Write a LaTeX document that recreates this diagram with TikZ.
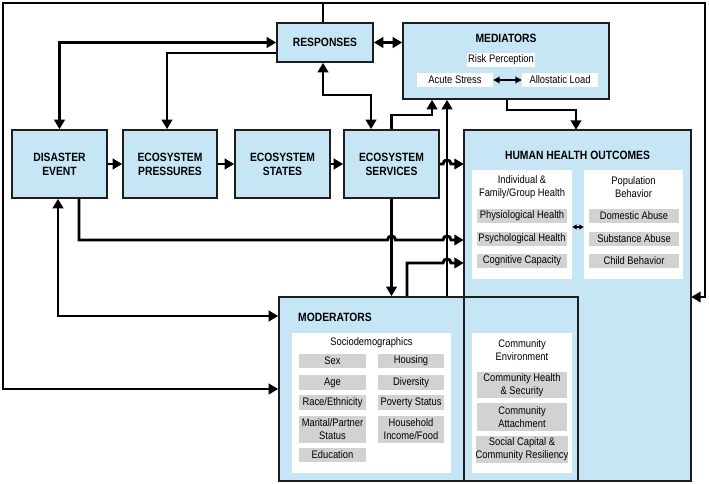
\documentclass[tikz,border=0pt]{standalone}
\usepackage{fontspec}
\setmainfont{Liberation Sans}[FakeStretch=0.86]
\usetikzlibrary{arrows.meta,calc}
\definecolor{bluefill}{HTML}{C6E6F6}
\definecolor{grayfill}{HTML}{D2D2D2}
\definecolor{edgec}{HTML}{1E1E1E}
\newcommand\ttlfont{\fontsize{12}{14}\selectfont\bfseries}
\newcommand\bdyfont{\fontsize{10.9}{12.8}\selectfont}
\begin{document}
\begin{tikzpicture}[x=1pt,y=-1pt,
  bbox/.style={draw=edgec, line width=1.7pt, fill=bluefill, inner sep=0pt, align=center, font=\ttlfont},
  ttl/.style={inner sep=0pt, font=\ttlfont, align=center},
  wbox/.style={fill=white, inner sep=0pt, align=center, font=\bdyfont},
  gbox/.style={fill=grayfill, inner sep=0pt, align=center, font=\bdyfont},
  lbl/.style={inner sep=0pt, align=center, font=\bdyfont},
  conn/.style={line width=2.9pt, draw=black, -{Triangle[length=9.5pt,width=10.5pt]}},
  conntwo/.style={line width=2.9pt, draw=black, {Triangle[length=9.5pt,width=10.5pt]}-{Triangle[length=9.5pt,width=10.5pt]}},
  plainline/.style={line width=2.9pt, draw=black},
  smallarr/.style={line width=1.9pt, draw=black, {Triangle[length=6.5pt,width=6.5pt]}-{Triangle[length=6.5pt,width=6.5pt]}},
  frame/.style={draw=edgec, line width=1.7pt}
]
\useasboundingbox (0,0) rectangle (709,484);
\fill[white] (0,0) rectangle (709,484);

% main chain
\node[bbox, minimum width=95pt, minimum height=68pt] (de) at (59.5,164) {DISASTER\\EVENT};
\node[bbox, minimum width=94pt, minimum height=68pt] (ep) at (170,164) {ECOSYSTEM\\PRESSURES};
\node[bbox, minimum width=95pt, minimum height=68pt] (est) at (282.5,164) {ECOSYSTEM\\STATES};
\node[bbox, minimum width=95pt, minimum height=68pt] (esv) at (391.5,164) {ECOSYSTEM\\SERVICES};
\node[bbox, minimum width=96pt, minimum height=39pt] (resp) at (325,42.5) {RESPONSES};

% mediators
\node[bbox, minimum width=206pt, minimum height=76pt] (med) at (506,61) {};
\node[ttl] (medt) at (506,38) {MEDIATORS};
\node[wbox, minimum width=68pt, minimum height=14pt] (risk) at (501,60) {Risk Perception};
\node[wbox, minimum width=76pt, minimum height=14pt] (acute) at (455,80) {Acute Stress};
\node[wbox, minimum width=76pt, minimum height=14pt] (allo) at (560,80) {Allostatic Load};
\draw[smallarr] (acute) -- (allo);

% human health outcomes and moderators
\node[fill=bluefill, minimum width=227pt, minimum height=351pt, inner sep=0pt] (hho) at (577.5,305.5) {};
\node[fill=bluefill, frame, minimum width=299pt, minimum height=184pt, inner sep=0pt] (mod) at (428.5,389) {};
\draw[frame] (hho.north west) rectangle (hho.south east);

\node[ttl] (hhot) at (577.5,155) {HUMAN HEALTH OUTCOMES};
\node[wbox, minimum width=100pt, minimum height=109pt] (indiv) at (522,224.5) {};
\node[lbl] (indivt) at (522,187) {Individual \&\\Family/Group Health};
\node[gbox, minimum width=90pt, minimum height=14pt] (phys) at (522,216) {Physiological Health};
\node[gbox, minimum width=90pt, minimum height=14pt] (psych) at (522,238.5) {Psychological Health};
\node[gbox, minimum width=90pt, minimum height=14pt] (cog) at (522,260.5) {Cognitive Capacity};
\node[wbox, minimum width=99pt, minimum height=109pt] (pop) at (633.5,224.5) {};
\node[lbl] (popt) at (633.5,187) {Population\\Behavior};
\node[gbox, minimum width=90pt, minimum height=14pt] (dom) at (634,216) {Domestic Abuse};
\node[gbox, minimum width=90pt, minimum height=14pt] (sub) at (634,238.5) {Substance Abuse};
\node[gbox, minimum width=90pt, minimum height=14pt] (child) at (634,260.5) {Child Behavior};
\draw[line width=1.5pt, {Triangle[length=4.5pt,width=5pt]}-{Triangle[length=4.5pt,width=5pt]}] ([yshift=-2.5pt]indiv.east) -- ([yshift=-2.5pt]pop.west);

\node[ttl, anchor=west] (modt) at (298,317) {MODERATORS};
\node[wbox, minimum width=159pt, minimum height=140pt] (socio) at (371.5,403) {};
\node[lbl] (sociot) at (371.5,343) {Sociodemographics};
\node[gbox, minimum width=67pt, minimum height=14pt] (sex) at (332.5,361) {Sex};
\node[gbox, minimum width=67pt, minimum height=15pt] (age) at (332.5,382.5) {Age};
\node[gbox, minimum width=67pt, minimum height=15pt] (race) at (332.5,402.5) {Race/Ethnicity};
\node[gbox, minimum width=67pt, minimum height=27pt] (mar) at (332.5,429.5) {Marital/Partner\\Status};
\node[gbox, minimum width=67pt, minimum height=14pt] (edu) at (332.5,455) {Education};
\node[gbox, minimum width=66pt, minimum height=14pt] (hous) at (411,361) {Housing};
\node[gbox, minimum width=66pt, minimum height=15pt] (div) at (411,382.5) {Diversity};
\node[gbox, minimum width=66pt, minimum height=15pt] (pov) at (411,402.5) {Poverty Status};
\node[gbox, minimum width=66pt, minimum height=27pt] (inc) at (411,429.5) {Household\\Income/Food};

\node[wbox, minimum width=100pt, minimum height=140pt] (comm) at (522,403) {};
\node[lbl] (commt) at (522,350) {Community\\Environment};
\node[gbox, minimum width=90pt, minimum height=26pt] (chs) at (522,385) {Community Health\\\& Security};
\node[gbox, minimum width=90pt, minimum height=28pt] (catt) at (522,417) {Community\\Attachment};
\node[gbox, minimum width=90pt, minimum height=27pt] (scap) at (522,449.5) {Social Capital \&\\Community Resiliency};

% connectors along the chain
\draw[conn] (de.east) -- (ep.west);
\draw[conn] (ep.east) -- (est.west);
\draw[conn] (est.east) -- (esv.west);

% responses links
\draw[conntwo] (de.north) |- (resp.west);
\draw[conn] ([yshift=-10.5pt]resp.west) -| ([xshift=-3pt]ep.north);
\draw[conntwo] ([xshift=-2pt]resp.south) |- (371,95) -- ([xshift=-20.5pt]esv.north);
\draw[conntwo] (resp.east) -- (med.west |- resp.east);

% services to mediators, moderators, outcomes
\draw[conn] (esv.north) |- (420,115) -| ([xshift=-74pt]med.south);
\draw[conn] ([xshift=18.5pt]mod.north) -- ([xshift=-59pt]med.south);
\draw[conn] (esv.south) -- (esv.south |- mod.north);
\draw[conn] ([xshift=1pt]med.south) |- (540,110) -| ([xshift=-1.5pt]hho.north);
\draw[conn] (esv.east) -- (443,164) .. controls (443,158.7) and (451,158.7) .. (451,164) -- (hho.west |- esv.east);

% disaster event to outcomes (with hops)
\coordinate (ydh) at (0,240);
\draw[conn] ([xshift=19.5pt]de.south) |- (387.5,240)
  .. controls (387.5,234.7) and (395.5,234.7) .. (395.5,240) -- (443,240)
  .. controls (443,234.7) and (451,234.7) .. (451,240) -- (hho.west |- ydh);

% moderators to outcomes
\coordinate (ymh) at (0,263);
\draw[conn] ([xshift=-21.5pt]mod.north) |- (443,263)
  .. controls (443,257.7) and (451,257.7) .. (451,263) -- (hho.west |- ymh);

% disaster event <-> moderators
\draw[conntwo] ([xshift=-1.5pt]de.south) |- ([yshift=73pt]mod.west);

% outer loop from responses
\coordinate (top) at (323,3);
\draw[plainline] ([xshift=-2pt]resp.north) -- (top);
\draw[conn] (top) -- (3,3) -- (3,389) -- (mod.west);
\draw[conn] (top) -- (705,3) -- (705,297) -- ([yshift=8.5pt]hho.east);
\end{tikzpicture}
\end{document}
